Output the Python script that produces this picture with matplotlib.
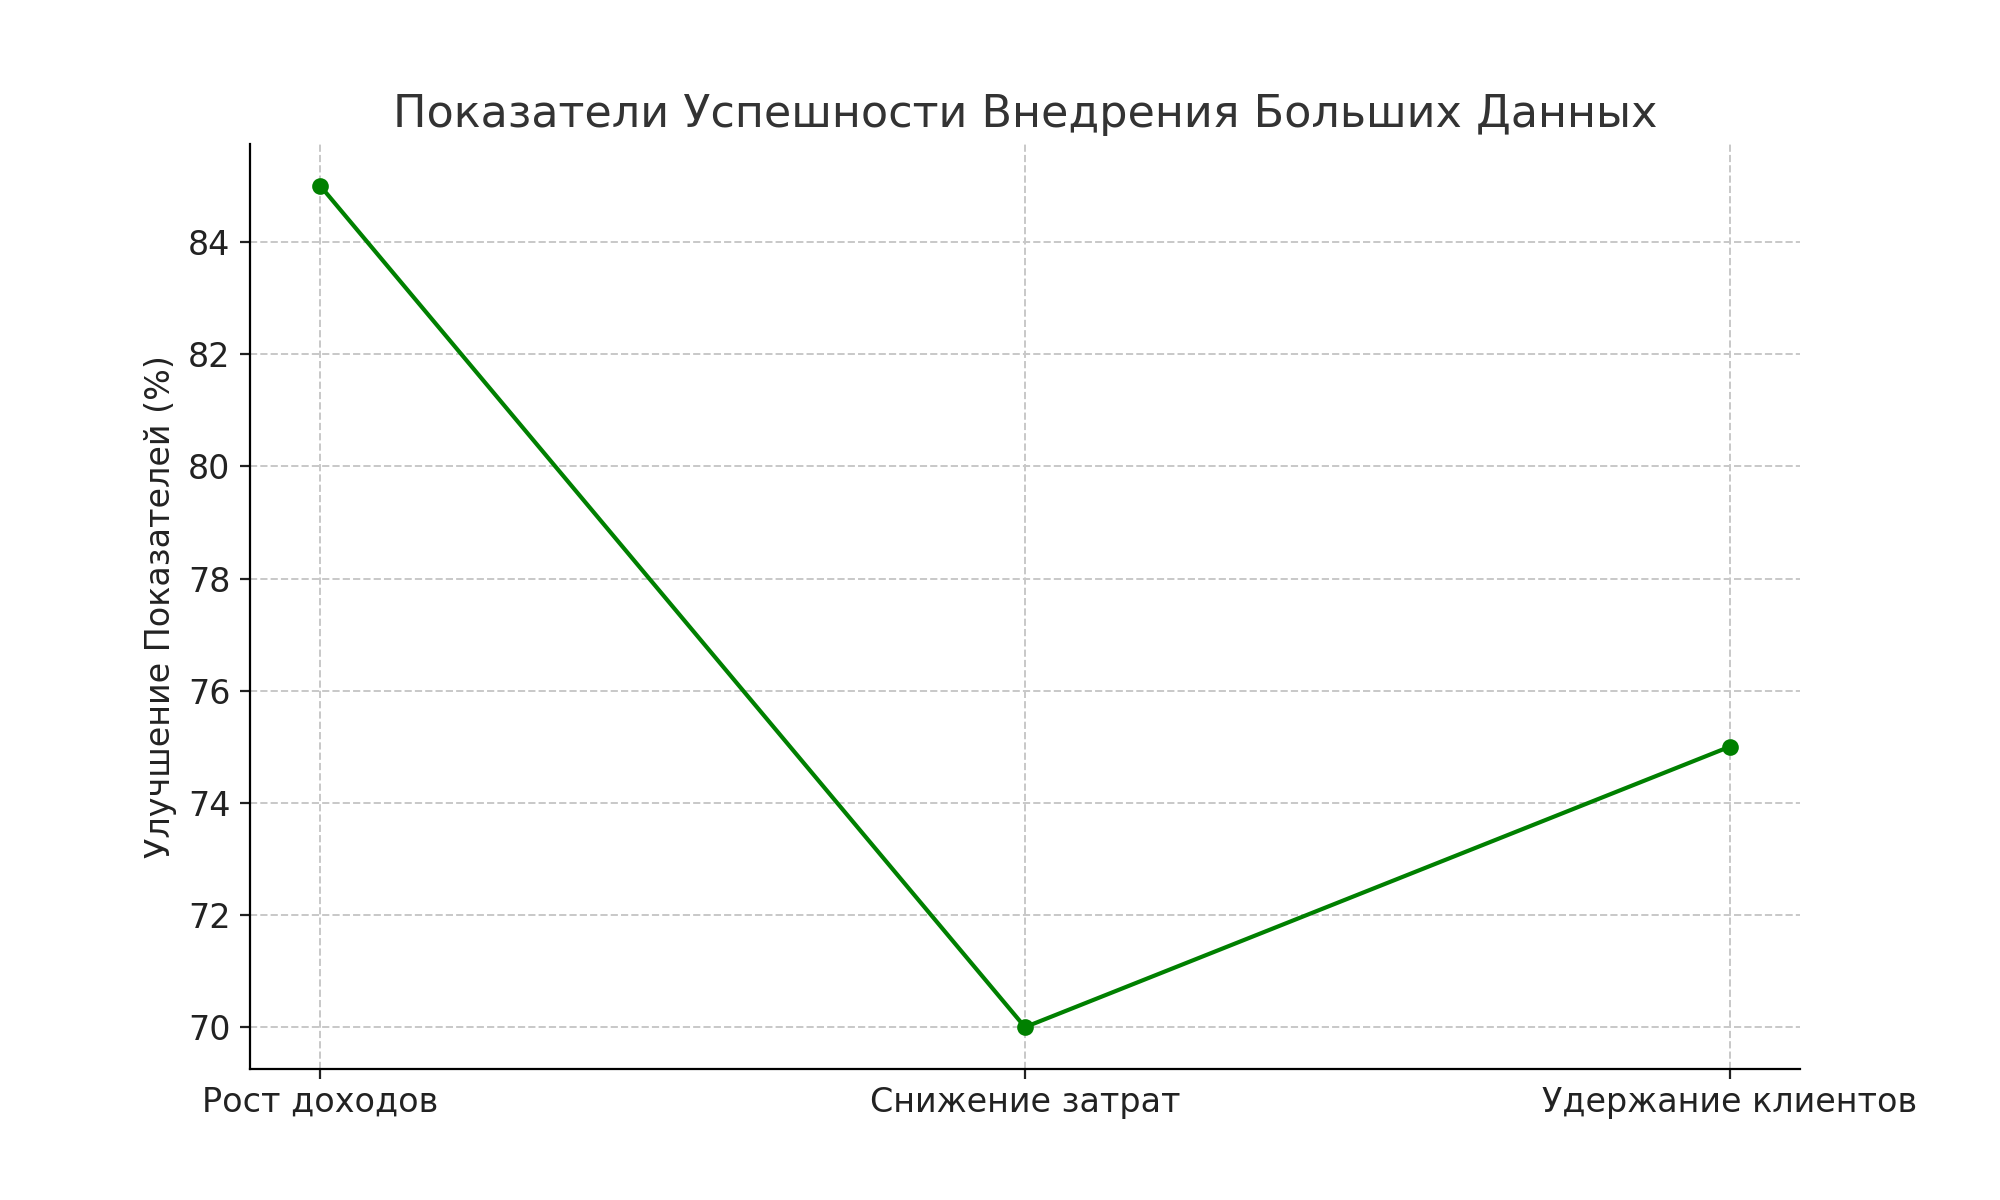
import matplotlib
matplotlib.use("Agg")
import matplotlib.pyplot as plt

categories = ["Рост доходов", "Снижение затрат", "Удержание клиентов"]
values = [85, 70, 75]

fig = plt.figure(figsize=(10, 6), dpi=200)
ax = fig.add_axes([0.125, 0.109, 0.775, 0.771])
ax.plot(categories, values, color="green", marker="o", linewidth=1.5, markersize=5)
ax.set_title("Показатели Успешности Внедрения Больших Данных", fontsize=16, color="#333333")
ax.set_ylabel("Улучшение Показателей (%)", fontsize=12, color="#222222")
ax.grid(True, linestyle="--", color="#c8c8c8", linewidth=0.7)
ax.tick_params(labelsize=12, colors="#222222")
ax.tick_params(axis="x", pad=2.5)
for s in ["top", "right"]:
    ax.spines[s].set_visible(False)
ax.set_yticks([70, 72, 74, 76, 78, 80, 82, 84])
ax.set_ylim(69.25, 85.75)
ax.set_xlim(-0.1, 2.1)
fig.savefig("out.png", dpi=200)
